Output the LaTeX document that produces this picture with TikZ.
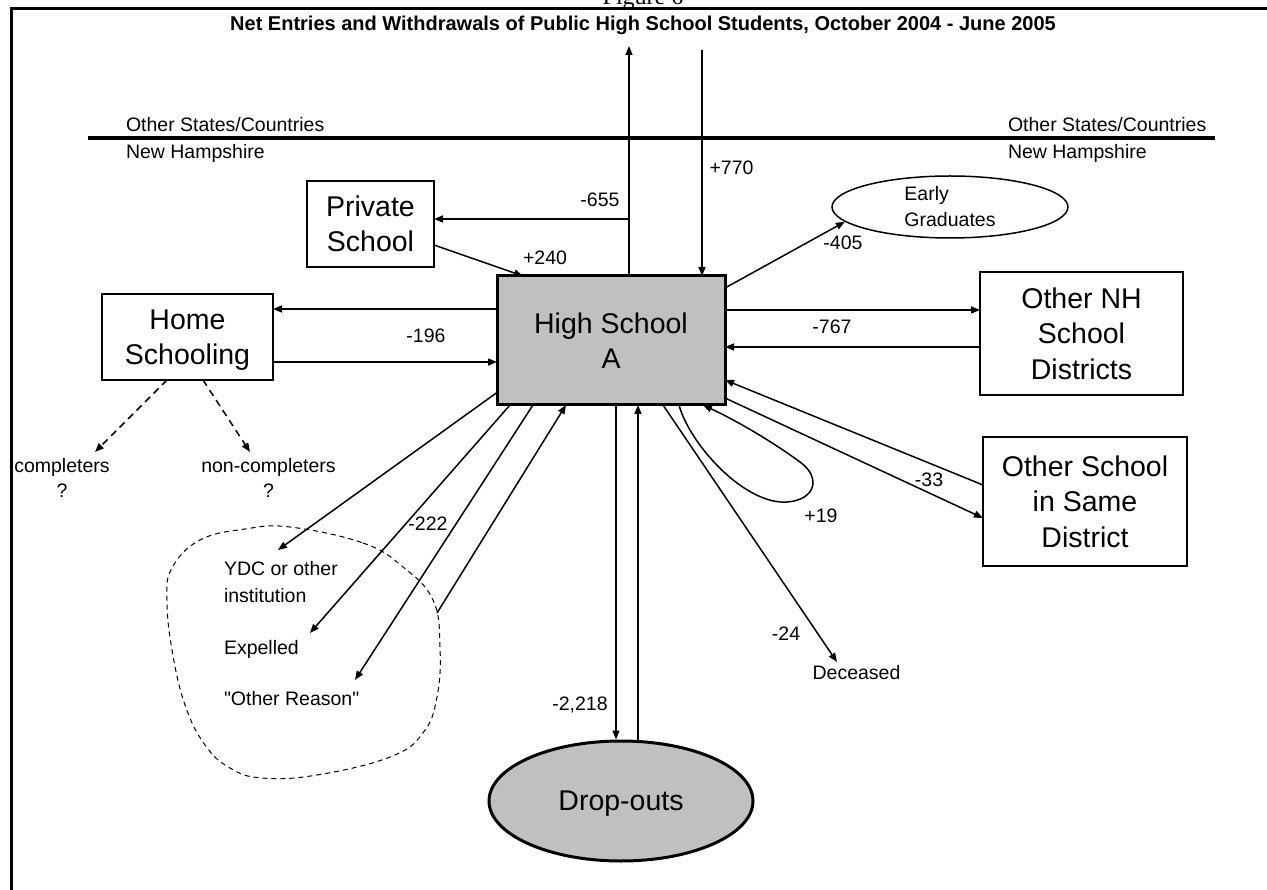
\documentclass[tikz,border=0pt]{standalone}
\usepackage{fontspec}
\setmainfont{Liberation Sans}
\newfontfamily\rawsans{Liberation Sans}[Ligatures=TeXOff]
\newfontfamily\timesfont{Liberation Serif}
\usetikzlibrary{arrows.meta,shapes.geometric}
\newcommand\fsz[2]{\fontsize{#1}{#2}\selectfont}
\definecolor{boxgray}{HTML}{C0C0C0}
\begin{document}
\begin{tikzpicture}[x=1pt,y=-1pt,
  >={Triangle[length=9pt,width=7pt]},
  box/.style={draw, line width=1.5pt, fill=white, inner sep=0pt, outer sep=0pt, align=center, font=\fsz{28.5}{35.5}},
  lbl/.style={inner sep=0pt, outer sep=0pt, font=\fsz{19.5}{26}, text height=14pt, text depth=0pt},
  mlbl/.style={inner sep=0pt, outer sep=0pt, font=\fsz{19.5}{25}},
  arr/.style={->, line width=1.5pt},
  darr/.style={->, line width=1.5pt, dash pattern=on 7pt off 5pt}]
\useasboundingbox (0,0) rectangle (1267,890);

% frame and title
\draw[line width=3pt] (11,890) -- (11,9) -- (1267,9);
\node[font=\timesfont\fsz{24}{28}, anchor=base, inner sep=0pt] (fig) at (643,5) {Figure 6};
\node[font=\bfseries\fsz{20}{24}, inner sep=0pt, text height=14.3pt, text depth=0pt] (title) at (643,23)
  {Net Entries and Withdrawals of Public High School Students, October 2004 - June 2005};

% state divider
\coordinate (divL) at (88,138);
\coordinate (divR) at (1215,138);
\draw[line width=3.5pt] (divL) -- (divR);
\node[lbl, anchor=west] (osL) at (126,125) {Other States/Countries};
\node[lbl, anchor=west] (nhL) at (126,152) {New Hampshire};
\node[lbl, anchor=west] (osR) at (1008,125) {Other States/Countries};
\node[lbl, anchor=west] (nhR) at (1008,152) {New Hampshire};

% main nodes
\node[box, minimum width=127pt, minimum height=86pt] (ps) at (370.5,224) {Private\\School};
\node[box, fill=boxgray, line width=3pt, minimum width=228pt, minimum height=129pt] (hs) at (611,340.5) {High School\\A};
\node[box, minimum width=171pt, minimum height=86pt, text depth=0pt] (home) at (187.5,337) {Home\\Schooling};
\node[box, minimum width=203pt, minimum height=123pt] (onh) at (1081.5,333.5) {Other NH\\School\\Districts};
\node[box, minimum width=204pt, minimum height=129pt] (osd) at (1085,501.5) {Other School\\in Same\\District};
\node[ellipse, draw, line width=1.5pt, minimum width=236pt, minimum height=62pt, inner sep=0pt,
      align=left, font=\fsz{19.5}{26}] (eg) at (950,207) {Early\\Graduates};
\node[ellipse, draw, fill=boxgray, line width=3pt, minimum width=264pt, minimum height=120pt, inner sep=0pt,
      font=\fsz{28.5}{35.5}, text depth=0pt] (drop) at (621,801) {Drop-outs};

% text destinations
\node[mlbl, align=center, anchor=north] (compl) at (62,458) {completers\\?};
\node[mlbl, align=center, anchor=north] (ncompl) at (268.5,458) {non-completers\\?};
\node[mlbl, align=left, anchor=north west, font=\fsz{19.5}{27}] (ydc) at (224,561) {YDC or other\\institution};
\node[lbl, anchor=west] (exp) at (224,647) {Expelled};
\node[lbl, anchor=west, font=\rawsans\fsz{19.5}{26}] (oth) at (224,698) {"Other Reason"};
\node[lbl] (dec) at (856.5,672) {Deceased};

% numbers
\node[lbl] (l655) at (600,199.5) {-655};
\node[lbl] (l770) at (731.5,168) {+770};
\node[lbl] (l240) at (545,258) {+240};
\node[lbl] (l405) at (843,243) {-405};
\node[lbl] (l196) at (426,336) {-196};
\node[lbl] (l767) at (832,327) {-767};
\node[lbl] (l33) at (929,479) {-33};
\node[lbl] (l19) at (821,515) {+19};
\node[lbl] (l24) at (786,633) {-24};
\node[lbl] (l2218) at (580,703) {-2,218};
\node[lbl] (l222) at (428,523) {-222};

% free ends
\coordinate (topout) at (629,46);
\coordinate (topin) at (702,50);
\coordinate (split) at (629,219);
\coordinate (blobpt) at (437,613);

% connectors
\draw[arr] ([xshift=18pt]hs.north) -- (topout);
\draw[arr] (topin) -- ([xshift=91pt]hs.north);
\draw[arr] (split) -- ([yshift=5pt]ps.east);
\draw[arr] ([yshift=-21pt]ps.east) -- ([xshift=26pt]hs.north west);
\draw[arr] ([yshift=-12pt]hs.north east) -- (eg.188);
\draw[arr] ([yshift=31.5pt]hs.west) -- ([yshift=28pt]home.east);
\draw[arr] ([yshift=-25pt]home.east) -- ([yshift=-21.5pt]hs.west);
\draw[arr] ([yshift=30.5pt]hs.east) -- ([yshift=23.5pt]onh.west);
\draw[arr] ([yshift=-13.5pt]onh.west) -- ([yshift=-6.5pt]hs.east);
\draw[arr] ([yshift=16.5pt]osd.west) -- ([yshift=-39.5pt]hs.east);
\draw[arr] ([yshift=-57.5pt]hs.east) -- ([yshift=-16.5pt]osd.west);
\draw[arr] ([xshift=68pt]hs.south) .. controls (690,445) and (745,505) .. (787,502)
   .. controls (815,500) and (822,478) .. (800,462)
   .. controls (770,440) and (735,420) .. ([xshift=92pt]hs.south);
\draw[arr] ([xshift=52pt]hs.south) -- ([xshift=-19.5pt,yshift=3pt]dec.north);
\draw[arr] ([xshift=5pt]hs.south) -- ([xshift=-5pt]drop.north);
\draw[arr] ([xshift=17pt]drop.north) -- ([xshift=27pt]hs.south);
\draw[arr] ([yshift=-52pt]hs.west) -- ([xshift=54pt,yshift=11pt]ydc.north west);
\draw[arr] ([xshift=13pt]hs.south west) -- ([xshift=86pt,yshift=7pt]exp.north west);
\draw[arr] ([xshift=36pt]hs.south west) -- ([xshift=131pt,yshift=11pt]oth.north west);
\draw[arr] (blobpt) -- ([xshift=69pt]hs.south west);
\draw[darr] ([xshift=-20.5pt]home.south) -- ([xshift=33pt,yshift=6pt]compl.north);
\draw[darr] ([xshift=15.5pt]home.south) -- ([xshift=-18.5pt,yshift=6pt]ncompl.north);

% dashed grouping outline
\draw[line width=1pt, dash pattern=on 5pt off 4pt] plot[smooth cycle, tension=0.7] coordinates {
  (290,527) (363,543) (403,567) (433,600) (440,647) (437,697) (423,733) (390,757)
  (317,775) (262,778) (230,768) (205,745) (185,705) (172,650) (167,600) (172,568)
  (200,540) (245,529)};
\end{tikzpicture}
\end{document}
